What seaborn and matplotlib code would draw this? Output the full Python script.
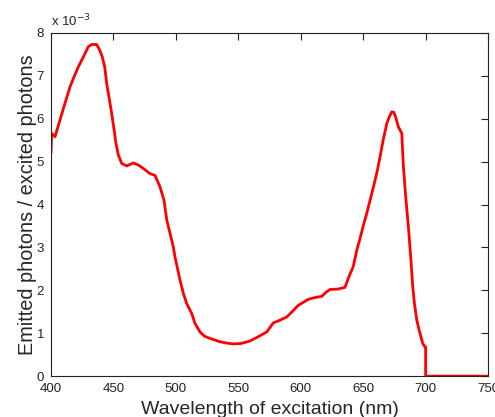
import pandas as pd
import matplotlib
matplotlib.use("Agg")
import matplotlib.pyplot as plt
import seaborn as sns

# spectrum (y in units of 1e-3)
wavelength = [400, 400.5, 403.2, 407.2, 411.2, 415.2, 417.9, 421.9, 425.9, 429.9, 432.6, 436.6,
              439, 441, 443, 444.6, 446.5, 448.6, 450.5, 452, 454, 456.6, 460.6, 466, 470, 474,
              479.3, 483.3, 487.3, 490.5, 492.7, 495.3, 498, 499.3, 503.3, 506, 508.7, 512.7,
              515.3, 519.3, 523, 527.3, 535.4, 541, 546, 552, 559.4, 566, 572.8, 578, 583,
              588.8, 593, 598, 606, 611, 616.8, 620, 623.4, 630, 635.4, 639, 642, 645, 647.5,
              650, 652.8, 655.5, 658.2, 661, 663.5, 666, 668.9, 671, 672.9, 674.5, 676, 678.2,
              680.9, 682.2, 684, 686.2, 688, 689.7, 691, 692.9, 695, 697.7, 699.5, 700, 700.01,
              750]
ratio = [5.2, 5.66, 5.58, 5.97, 6.36, 6.74, 6.94, 7.21, 7.44, 7.68, 7.73, 7.73,
         7.6, 7.45, 7.21, 6.82, 6.5, 6.12, 5.75, 5.43, 5.15, 4.96, 4.9, 4.97, 4.92, 4.84,
         4.72, 4.68, 4.41, 4.1, 3.64, 3.33, 3.01, 2.78, 2.24, 1.93, 1.69, 1.46,
         1.23, 1.03, 0.93, 0.88, 0.8, 0.77, 0.75, 0.76, 0.82, 0.92, 1.03, 1.24, 1.3,
         1.38, 1.5, 1.65, 1.79, 1.83, 1.86, 1.95, 2.02, 2.03, 2.07, 2.35, 2.55, 2.95, 3.21,
         3.5, 3.79, 4.1, 4.41, 4.75, 5.11, 5.5, 5.89, 6.05, 6.16, 6.15, 6.04, 5.81,
         5.66, 4.88, 4.2, 3.48, 2.8, 2.08, 1.7, 1.31, 1.05, 0.76, 0.68, 0.68, 0.0,
         0.0]
x_ticks = [400, 450, 500, 550, 600, 650, 700, 750]
y_ticks = [0, 1, 2, 3, 4, 5, 6, 7, 8]

df = pd.DataFrame({"wavelength": wavelength, "ratio": ratio})

sns.set_theme(style="white")
plt.rcParams['font.family'] = ['Liberation Sans', 'DejaVu Sans']

fig = plt.figure(figsize=(4.95, 4.17), dpi=100)
ax = fig.add_axes([0.103, 0.098, 0.883, 0.823])

sns.lineplot(data=df, x="wavelength", y="ratio", color="#ff0000", linewidth=2,
             sort=False, estimator=None, ax=ax)

ax.set_xlim(400, 750)
ax.set_ylim(0, 8)
ax.set_xticks(x_ticks)
ax.set_yticks(y_ticks)
ax.tick_params(direction="in", length=5, width=0.8, top=True, right=True,
               labelsize=9.5, colors="#222222", pad=5)
for s in ax.spines.values():
    s.set_visible(True)
    s.set_color("#222222")
    s.set_linewidth(0.8)

ax.set_xlabel("Wavelength of excitation (nm)", fontsize=14, labelpad=4)
ax.set_ylabel("Emitted photons / excited photons", fontsize=14.3, labelpad=0)
ax.text(0.0, 1.01, r"x 10$^{-3}$", transform=ax.transAxes, fontsize=9.5,
        color="#222222", ha="left", va="bottom")

fig.savefig("out.png", dpi=100)
